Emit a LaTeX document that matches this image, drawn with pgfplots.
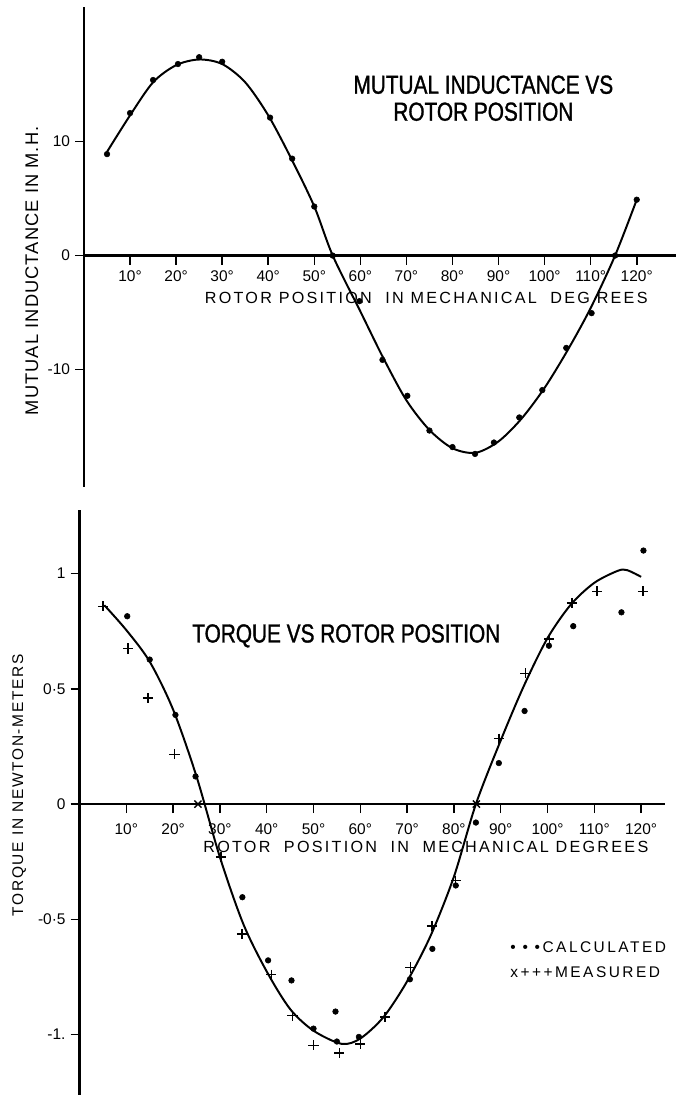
\documentclass[border=0pt]{standalone}
\usepackage{pgfplots}
\pgfplotsset{compat=1.18}
\usepackage{fontspec}
\setmainfont{Liberation Sans}
\newfontfamily\titlefont[FakeStretch=0.8,FakeBold=1.2]{Liberation Sans}
\newfontfamily\labfont[LetterSpace=14]{Liberation Sans}
\newfontfamily\ylabfont[LetterSpace=6]{Liberation Sans}
\newfontfamily\tylabfont[LetterSpace=11]{Liberation Sans}
\newfontfamily\legfont[LetterSpace=16]{Liberation Sans}

\pgfplotsset{
  oldplot/.style={
    axis lines=middle, axis line style={-, line width=1.9pt},
    clip=false, tick align=outside, major tick length=6.4pt,
    tick style={line width=1.1pt, black},
    hide obscured x ticks=false, hide obscured y ticks=false,
    yticklabel style={font=\fontsize{11}{13}\selectfont},
  },
  curve/.style={black, line width=1.4pt, smooth, no marks},
  calc/.style={only marks, mark=*, mark size=2pt, black},
  meas/.style={only marks, mark=+, mark size=3.6pt, black, mark options={line width=1pt}},
}

\begin{document}
\begin{tikzpicture}
\path[use as bounding box] (0,0) rectangle (170.75mm,273.75mm);

% mutual inductance
\begin{axis}[oldplot, at={(21mm,152mm)}, anchor=south west, x=1.1515mm, y=2.85mm,
  xmin=0, xmax=128.5, ymin=-20.3, ymax=21.8,
  xtick={10,20,30,40,50,60,70,80,90,100,110,120},
  xticklabels={10°,20°,30°,40°,50°,60°,70°,80°,90°,100°,110°,120°},
  ytick={-10,0,10}, yticklabels={-10,0,10},
  xticklabel style={font=\fontsize{11}{13}\selectfont, anchor=center, yshift=-8.5pt},
  xlabel={ROTOR POSITION \ IN MECHANICAL \ DEG REES},
  every axis x label/.style={at={(axis cs:74.3,-3.74)}, anchor=center,
    font=\labfont\fontsize{11.5}{13}\selectfont},
  ylabel={MUTUAL INDUCTANCE IN M.H.},
  every axis y label/.style={at={(axis cs:-11.3,-1.34)}, anchor=center, rotate=90,
    font=\ylabfont\fontsize{13}{15}\selectfont}]
\addplot[curve] coordinates {(5,9.1) (10,12.3) (15,15.2) (20,16.7) (25,17.2) (30,16.8)
  (35,15.2) (40,12.3) (45,8.5) (50,4.3) (54,0) (60,-4.9) (65,-9.0) (70,-12.7) (75,-15.3)
  (80,-16.9) (85,-17.3) (90,-16.3) (95,-14.3) (100,-11.6) (105,-8.3) (110,-4.6) (115.3,0) (120,4.9)};
\addplot[calc] coordinates {(5,8.9) (10,12.5) (15,15.4) (20.4,16.8) (25,17.4) (30,17.0)
  (40.4,12.1) (45.2,8.5) (50,4.3) (54,0) (59.8,-4.0) (64.8,-9.15) (70.2,-12.3) (75,-15.35)
  (80,-16.8) (84.9,-17.4) (89,-16.4) (94.5,-14.2) (99.5,-11.8) (104.7,-8.1) (110.2,-5.05)
  (115.3,0) (120,4.9)};
\node[font=\titlefont\fontsize{18.5}{19.2}\selectfont, align=center] at (axis cs:86.7,13.8)
  {MUTUAL INDUCTANCE VS\\ROTOR POSITION};
\end{axis}

% torque
\begin{axis}[oldplot, at={(19.875mm,0mm)}, anchor=south west, x=1.17mm, y=57.625mm,
  xmin=0, xmax=125, ymin=-1.262, ymax=1.275,
  xtick={10,20,30,40,50,60,70,80,90,100,110,120},
  xticklabels={10°,20°,30°,40°,50°,60°,70°,80°,90°,100°,110°,120°},
  ytick={-1,-0.5,0,0.5,1}, yticklabels={-1.,-0·5,0,0·5,1},
  xticklabel style={font=\fontsize{11}{13}\selectfont, anchor=center, yshift=-11.3pt},
  xlabel={ROTOR \ POSITION \ IN \ MECHANICAL DEGREES},
  every axis x label/.style={at={(axis cs:74,-0.185)}, anchor=center,
    font=\labfont\fontsize{11.5}{13}\selectfont},
  ylabel={TORQUE IN NEWTON-METERS},
  every axis y label/.style={at={(axis cs:-12.9,0.082)}, anchor=center, rotate=90,
    font=\tylabfont\fontsize{11}{13}\selectfont}]
\addplot[curve] coordinates {(5.3,0.863) (10,0.755) (15,0.618) (20,0.41) (25,0.12)
  (30,-0.23) (35,-0.52) (40,-0.726) (45,-0.889) (50,-0.983) (56,-1.04)
  (60,-1.017) (65,-0.923) (70,-0.769) (75,-0.572) (80,-0.315) (84.7,0) (90,0.276)
  (95,0.515) (100,0.72) (105,0.866) (110,0.96) (115,1.012) (117,1.015) (120,0.986)};
\addplot[calc] coordinates {(10.2,0.815) (15,0.627) (20.5,0.387) (24.8,0.12) (34.8,-0.404)
  (40.3,-0.678) (45.3,-0.765) (50,-0.974) (54.7,-0.9) (55,-1.03) (59.7,-1.01) (70.6,-0.76)
  (75.4,-0.628) (80.4,-0.353) (84.7,-0.08) (89.6,0.178) (95.1,0.404) (100.3,0.687)
  (105.5,0.772) (115.8,0.832) (120.5,1.10)};
\addplot[meas] coordinates {(5,0.858) (10.4,0.675) (14.6,0.46) (20.3,0.216) (30.2,-0.23)
  (34.7,-0.563) (41,-0.74) (45.5,-0.918) (50,-1.046) (55.5,-1.08) (60,-1.04) (65.3,-0.923)
  (70.7,-0.709) (75.3,-0.529) (80.4,-0.332) (89.6,0.284) (95.3,0.567) (100.4,0.716)
  (105.2,0.873) (110.6,0.923) (120.4,0.923)};
\addplot[only marks, mark=x, mark size=3.6pt, black, mark options={line width=1pt}]
  coordinates {(25.3,0) (84.8,0)};
\node[font=\titlefont\fontsize{18.5}{19.2}\selectfont] at (axis cs:57,0.73) {TORQUE VS ROTOR POSITION};
\node[font=\legfont\fontsize{11}{13}\selectfont, anchor=west] at (axis cs:91,-0.62) {• • •CALCULATED};
\node[font=\legfont\fontsize{11}{13}\selectfont, anchor=west] at (axis cs:91,-0.73) {x+++MEASURED};
\end{axis}
\end{tikzpicture}
\end{document}
